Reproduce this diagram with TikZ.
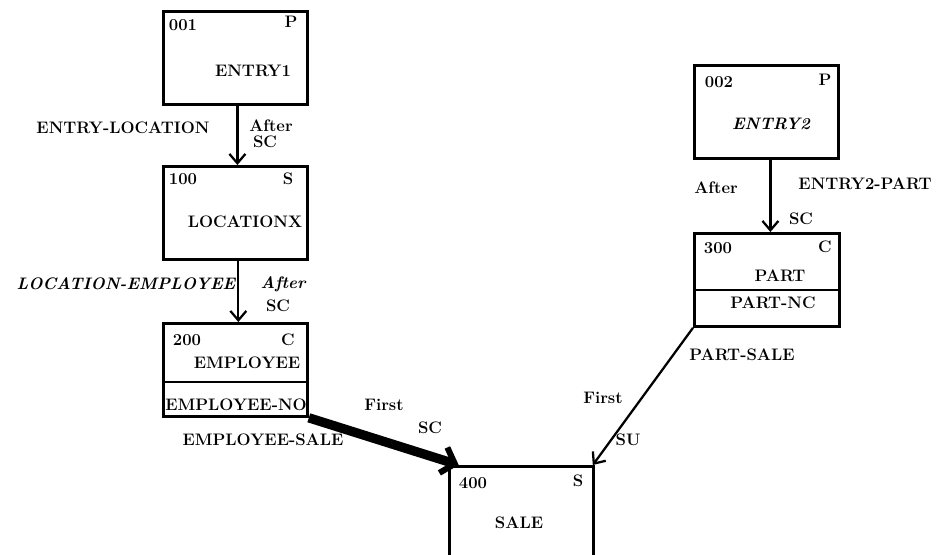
\documentclass[tikz,border=0pt]{standalone}
\usepackage{fontspec}
\usetikzlibrary{arrows.meta}
\begin{document}
\begin{tikzpicture}[x=0.75pt,y=-0.75pt,
  font=\bfseries\fontsize{12.5}{14}\selectfont\addfontfeatures{LetterSpace=5},
  box/.style={draw,line width=2.1pt,anchor=north west,inner sep=0pt},
  rule/.style={line width=2.1pt},
  txt/.style={inner sep=0pt},
  lbl/.style={inner sep=0pt},
  arr/.style={line width=1.7pt,-{Straight Barb[length=7pt,width=12pt]}},
  heavy/.style={line width=7pt,-{Straight Barb[length=9pt,width=20pt,line width=4.5pt]}}]
\useasboundingbox (0,0) rectangle (941,554);
\clip (0,0) rectangle (941,554);

% record boxes
\node[box,minimum width=144*0.75pt,minimum height=93*0.75pt] (e1) at (162,10) {};
\node[box,minimum width=144*0.75pt,minimum height=93*0.75pt] (loc) at (162,165) {};
\node[box,minimum width=144*0.75pt,minimum height=93*0.75pt] (emp) at (162,322) {};
\node[box,minimum width=144*0.75pt,minimum height=110*0.75pt] (sale) at (448,465) {};
\node[box,minimum width=144*0.75pt,minimum height=93*0.75pt] (e2) at (693,64) {};
\node[box,minimum width=145*0.75pt,minimum height=93*0.75pt] (part) at (693,232) {};
\draw[rule] (emp.west |- 0,382) -- (emp.east |- 0,382);
\draw[rule] (part.west |- 0,290) -- (part.east |- 0,290);

% box contents
\node[txt] (e1n) at (183,25) {001};
\node[txt] (e1k) at (291,22) {P};
\node[txt] (e1t) at (253,71) {ENTRY1};
\node[txt] (locn) at (183,179) {100};
\node[txt] (lock) at (288,179) {S};
\node[txt] (loct) at (245,222) {LOCATIONX};
\node[txt] (empn) at (187,340) {200};
\node[txt] (empk) at (288,340) {C};
\node[txt] (empt) at (247,363) {EMPLOYEE};
\node[txt] (empf) at (236,405) {EMPLOYEE-NO};
\node[txt] (salen) at (473,483) {400};
\node[txt] (salek) at (578,481) {S};
\node[txt] (salet) at (519,523) {SALE};
\node[txt] (e2n) at (719,82) {002};
\node[txt] (e2k) at (825,80) {P};
\node[txt] (e2t) at (771,124) {\itshape ENTRY2};
\node[txt] (partn) at (718,248) {300};
\node[txt] (partk) at (825,247) {C};
\node[txt] (partt) at (780,276) {PART};
\node[txt] (partf) at (773,303) {PART-NC};

% connectors
\draw[arr] ([xshift=1.5pt]e1.south) -- ([xshift=1.5pt]e1.south |- loc.north);
\draw[arr] ([xshift=2.2pt]loc.south) -- ([xshift=2.2pt]loc.south |- emp.north);
\draw[arr] ([xshift=3pt]e2.south) -- ([xshift=3pt]e2.south |- part.north);
\draw[arr] (part.south west) -- ([xshift=-1.5pt]sale.north east);
\draw[heavy] (emp.south east) -- ([xshift=8pt]sale.north west);

% set labels
\node[lbl] (l1) at (123,128) {ENTRY-LOCATION};
\node[lbl] (l1a) at (271,126) {After};
\node[lbl] (l1b) at (265,142) {SC};
\node[lbl] (l2) at (126,284) {\itshape LOCATION-EMPLOYEE};
\node[lbl] (l2a) at (283,284) {\itshape After};
\node[lbl] (l2b) at (278,306) {SC};
\node[lbl] (l3) at (263,440) {EMPLOYEE-SALE};
\node[lbl] (l3a) at (384,405) {First};
\node[lbl] (l3b) at (430,428) {SC};
\node[lbl] (l4a) at (716,188) {After};
\node[lbl] (l4) at (865,184) {ENTRY2-PART};
\node[lbl] (l4b) at (801,219) {SC};
\node[lbl] (l5) at (742,355) {PART-SALE};
\node[lbl] (l5a) at (603,398) {First};
\node[lbl] (l5b) at (628,440) {SU};
\end{tikzpicture}
\end{document}
